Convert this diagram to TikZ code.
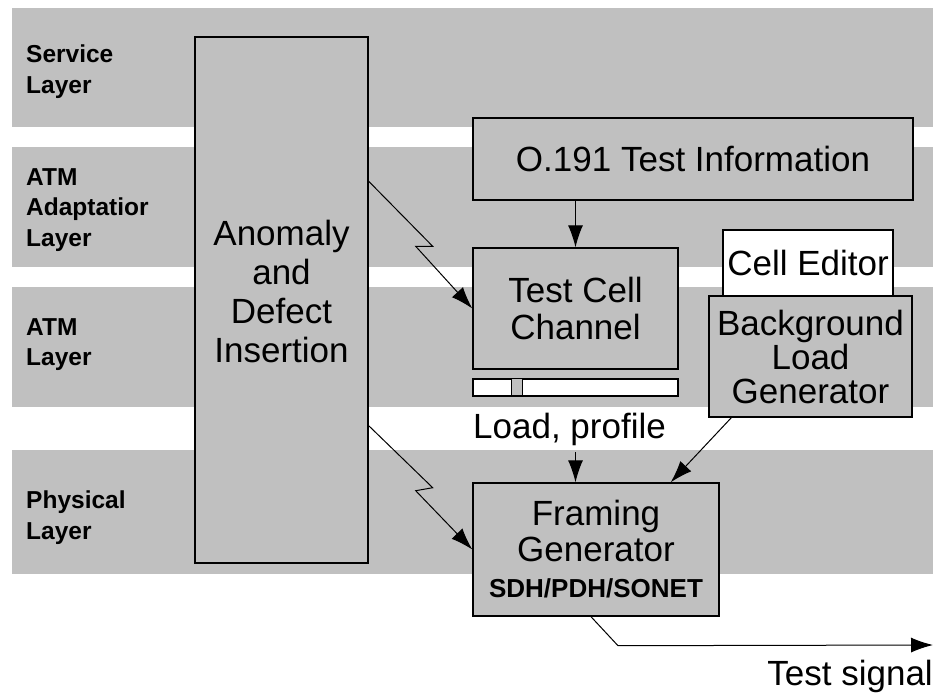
\documentclass[tikz,border=0pt]{standalone}
\usepackage{fontspec}
\setmainfont{Liberation Sans}
\usepackage{tikz}
\usetikzlibrary{positioning, arrows.meta, calc}
\definecolor{bandgray}{HTML}{C0C0C0}

\tikzset{
  band/.style={fill=bandgray},
  layertxt/.style={anchor=north west, align=left, inner sep=0pt, font=\bfseries\fontsize{24.5}{30.5}\selectfont},
  bigtxt/.style={align=center, inner sep=0pt, font=\fontsize{35}{37}\selectfont},
  block/.style={bigtxt, draw, line width=1.4pt, fill=bandgray},
  arr/.style={line width=1pt, -{Latex[length=22pt,width=15pt]}},
}

\begin{document}
\begin{tikzpicture}[x=1pt, y=-1pt]
\useasboundingbox (0,0) rectangle (939,694);

% Layer bands
\fill[band] (12,8) rectangle (933,127);
\fill[band] (12,147) rectangle (933,267);
\fill[band] (12,287) rectangle (933,407);
\fill[band] (12,450) rectangle (933,574);

\node[layertxt] (servicetxt) at (26,45) {Service\\Layer};
\node[layertxt] (aaltxt) at (26,168) {ATM\\Adaptatior\\Layer};
\node[layertxt] (atmtxt) at (26,318) {ATM\\Layer};
\node[layertxt] (phytxt) at (26,491) {Physical\\Layer};

% Blocks
\node[block, minimum width=173, minimum height=526] (anomaly) at (281.5,300) {};
\node[bigtxt, font=\fontsize{35}{39}\selectfont] (anomalytxt) at (281.5,291) {Anomaly\\and\\Defect\\Insertion};

\node[block, minimum width=440, minimum height=82] (o191) at (693,159) {O.191 Test Information};
\node[block, minimum width=205, minimum height=121] (testcell) at (575.5,308.5) {Test Cell\\Channel};

\node[draw, line width=1.4pt, fill=white, minimum width=205, minimum height=17, inner sep=0pt] (loadbar) at (575.5,387.5) {};
\draw[line width=1pt, fill=bandgray] ($(loadbar.north west)+(39,0)$) rectangle ++(11,17);

\node[block, fill=white, minimum width=170, minimum height=66] (celledit) at (808,263) {Cell Editor};
\node[block, font=\fontsize{35}{34}\selectfont, minimum width=203, minimum height=121] (blg) at (810.5,356.5) {Background\\Load\\Generator};

\node[block, font=\fontsize{35}{36}\selectfont, minimum width=246, minimum height=133] (framing) at (596,549.5)
  {Framing\\Generator\\{\bfseries\fontsize{26}{34}\selectfont SDH/PDH/SONET}};

\node[bigtxt, anchor=base west] (loadtxt) at (473,438) {Load, profile};
\node[bigtxt, anchor=base east] (sigtxt) at (933,685) {Test signal};
\coordinate (sigend) at (933,645);

% Connectors
\draw[arr] (testcell.north |- o191.south) -- (testcell.north);
\draw[arr] ($(anomaly.north east)+(0,145)$) -- ++(64,65) -- ++(-17,0) -- (testcell.west);
\draw[arr] ($(anomaly.south east)+(0,-138)$) -- ++(64,62) -- ++(-17,3) -- (framing.west);
\draw[arr] ($(testcell.south |- loadtxt.south)+(0,7)$) -- (testcell.south |- framing.north);
\draw[arr] ($(blg.south west)+(23,0)$) -- ($(framing.north east)+(-49,0)$);
\draw[arr] ($(framing.south)+(-5,0)$) -- ++(27,29) -- (sigend);
\end{tikzpicture}
\end{document}
